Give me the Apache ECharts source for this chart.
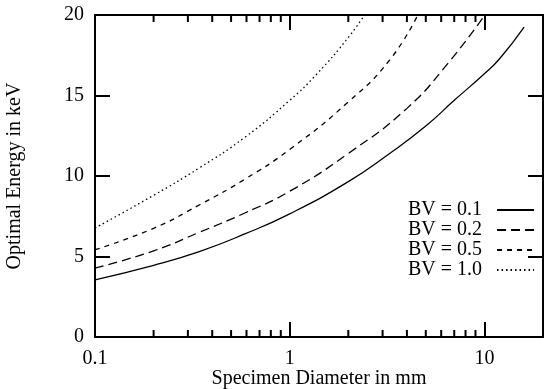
<!DOCTYPE html>
<html>
<head>
<meta charset="utf-8">
<script src="https://cdn.jsdelivr.net/npm/echarts@6/dist/echarts.min.js"></script>
<style>html,body{margin:0;padding:0;background:#fff;}#c{width:544px;height:389px;}</style>
</head>
<body>
<div id="c"></div>
<script>
// Data
const seriesNames = ['BV = 0.1', 'BV = 0.2', 'BV = 0.5', 'BV = 1.0'];
const bv01 = [[0.1,3.55],[0.2,4.45],[0.343,5.3],[0.588,6.4],[1.0,7.65],[2.0,9.65],[3.26,11.4],[5,13.1],[7,14.7],[10,16.35],[12,17.3],[16,19.25]];
const bv02 = [[0.1,4.28],[0.2,5.35],[0.343,6.5],[0.588,7.7],[1.0,9.05],[2.0,11.4],[4.0,14.2],[6.5,17.0],[10,19.95]];
const bv05 = [[0.1,5.42],[0.2,6.75],[0.343,8.2],[0.588,9.8],[1.0,11.65],[2.0,14.6],[3.26,17.2],[4.55,20.0]];
const bv10 = [[0.1,6.77],[0.2,8.8],[0.343,10.5],[0.588,12.4],[1.0,14.7],[1.37,16.3],[2.03,18.7],[2.45,20.1]];
const minorTicksX = [0.2,0.3,0.4,0.5,0.6,0.7,0.8,0.9,2,3,4,5,6,7,8,9];
const xTitle = 'Specimen Diameter in mm';
const yTitle = 'Optimal Energy in keV';

const FONT = 'Liberation Serif';
const chart = echarts.init(document.getElementById('c'), null, {renderer: 'canvas'});

const dashes = ['solid', [9,5], [5,5], [1.5,3]];
const datasets = [bv01, bv02, bv05, bv10];

const lineSeries = datasets.map((d, i) => ({
  name: seriesNames[i],
  type: 'line',
  data: d,
  smooth: 0.5,
  symbol: 'none',
  lineStyle: {color: '#000', width: 1.3, type: dashes[i]},
  itemStyle: {color: '#000'},
  clip: true
}));

const minorSeries = {
  type: 'custom',
  name: 'minor',
  silent: true,
  clip: false,
  data: minorTicksX.map(v => [v, 0]),
  renderItem: function (params, api) {
    const x = api.value(0);
    const b = api.coord([x, 0]);
    const t = api.coord([x, 20]);
    return {
      type: 'group',
      children: [
        {type: 'line', shape: {x1: b[0], y1: b[1], x2: b[0], y2: b[1] - 7}, style: {stroke: '#000', lineWidth: 2}},
        {type: 'line', shape: {x1: t[0], y1: t[1], x2: t[0], y2: t[1] + 7}, style: {stroke: '#000', lineWidth: 2}}
      ]
    };
  }
};

const axisLine = {show: true, onZero: false, lineStyle: {color: '#000', width: 2}};
const tick = {show: true, inside: true, length: 15, lineStyle: {color: '#000', width: 2}};

chart.setOption({
  backgroundColor: '#fff',
  animation: false,
  grid: {left: 95, right: 1, top: 15, bottom: 52, outerBoundsMode: 'none', containLabel: false},
  legend: {
    data: seriesNames,
    orient: 'vertical',
    left: 408,
    top: 200,
    align: 'right',
    itemWidth: 37,
    itemHeight: 14,
    itemGap: 0,
    padding: 0,
    itemStyle: {opacity: 0},
    textStyle: {fontFamily: FONT, fontSize: 20, color: '#000', lineHeight: 19.5, padding: [0, 10, 0, 0]},
    inactiveColor: '#000'
  },
  xAxis: [
    {
      type: 'log', logBase: 10, min: 0.1, max: 20,
      position: 'bottom',
      axisLine: axisLine, axisTick: tick,
      splitLine: {show: false},
      axisLabel: {show: true, showMaxLabel: false, color: '#000', fontFamily: FONT, fontSize: 20, margin: 12},
      name: xTitle, nameLocation: 'middle', nameGap: 32, nameMoveOverlap: false,
      nameTextStyle: {color: '#000', fontFamily: FONT, fontSize: 20}
    },
    {
      type: 'log', logBase: 10, min: 0.1, max: 20,
      position: 'top',
      axisLine: axisLine, axisTick: tick,
      splitLine: {show: false},
      axisLabel: {show: false}
    }
  ],
  yAxis: [
    {
      type: 'value', min: 0, max: 20, interval: 5,
      position: 'left',
      axisLine: axisLine, axisTick: tick,
      splitLine: {show: false},
      axisLabel: {color: '#000', fontFamily: FONT, fontSize: 20, margin: 11},
      name: yTitle, nameLocation: 'middle', nameGap: 70, nameRotate: 90, nameMoveOverlap: false,
      nameTextStyle: {color: '#000', fontFamily: FONT, fontSize: 20}
    },
    {
      type: 'value', min: 0, max: 20, interval: 5,
      position: 'right',
      axisLine: axisLine, axisTick: tick,
      splitLine: {show: false},
      axisLabel: {show: false}
    }
  ],
  series: lineSeries.concat([minorSeries])
});
</script>
</body>
</html>
